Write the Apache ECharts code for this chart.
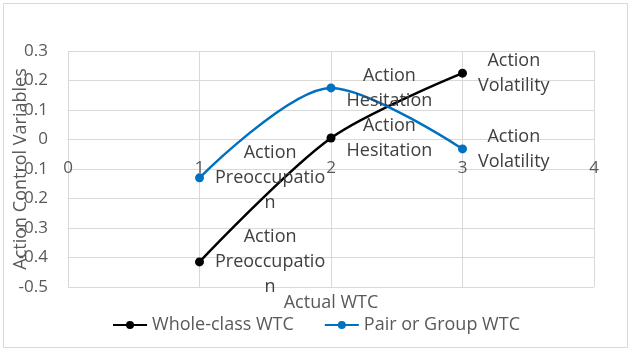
<!DOCTYPE html>
<html><head><meta charset="utf-8">
<script src="https://cdn.jsdelivr.net/npm/echarts@6/dist/echarts.min.js"></script>
<style>html,body{margin:0;padding:0;background:#fff}#c{width:632px;height:356px}</style>
</head><body><div id="c"></div>
<script>
const xCats = [1, 2, 3];
const wholeClass = [-0.415, 0.005, 0.225];
const pairGroup = [-0.130, 0.175, -0.032];
const wholeLabels = ["Action\nPreoccupatio\nn", "Action\nHesitation", "Action\nVolatility"];
const pairLabels = ["Action\nPreoccupatio\nn", "Action\nHesitation", "Action\nVolatility"];
const xTicks = [0, 1, 2, 3, 4];
const yTicks = [-0.5, -0.4, -0.3, -0.2, -0.1, 0, 0.1, 0.2, 0.3];

const FONT = '"Open Sans", sans-serif';
const LSIZE = 18;
const GRID = { left: 68, right: 38, top: 51, bottom: 69 };
const Y_MIN = -0.5, Y_MAX = 0.3;
const plotH = 356 - GRID.top - GRID.bottom;
const zeroOffset = -((0 - Y_MIN) / (Y_MAX - Y_MIN)) * plotH;

const ctx = document.createElement('canvas').getContext('2d');
ctx.font = LSIZE + 'px "Open Sans"';
function labelOffset(txt) {
  const w = Math.max(...txt.split('\n').map(s => ctx.measureText(s).width));
  return [w / 2, 0];
}
function mk(vals, labels) {
  return vals.map((v, i) => ({
    value: [xCats[i], v],
    label: { formatter: labels[i], offset: labelOffset(labels[i]) }
  }));
}
const labelStyle = {
  show: true, position: 'right', distance: 11, align: 'center', verticalAlign: 'middle',
  fontFamily: FONT, fontSize: LSIZE, color: '#404040', lineHeight: 25
};
const chart = echarts.init(document.getElementById('c'));
chart.setOption({
  animation: false,
  grid: Object.assign({ containLabel: false, outerBoundsMode: 'none' }, GRID),
  graphic: [
    { type: 'rect', shape: { x: 3.5, y: 3.5, width: 624, height: 344 }, style: { fill: 'none', stroke: '#d9d9d9', lineWidth: 1 } },
    { type: 'text', x: 331, y: 303, style: { text: 'Actual WTC', font: LSIZE + 'px ' + FONT, fill: '#595959', align: 'center', verticalAlign: 'middle' } }
  ],
  xAxis: {
    type: 'value', min: 0, max: 4, interval: 1, position: 'bottom', offset: zeroOffset,
    axisLine: { show: true, onZero: false, lineStyle: { color: '#d9d9d9' } },
    axisTick: { show: false },
    axisLabel: { margin: 20, fontFamily: FONT, fontSize: 17, color: '#595959',
      formatter: v => xTicks.includes(v) ? String(v) : '' },
    splitLine: { show: true, lineStyle: { color: '#d9d9d9' } }
  },
  yAxis: {
    type: 'value', min: Y_MIN, max: Y_MAX, interval: 0.1,
    name: 'Action Control Variables', nameLocation: 'middle', nameGap: 38, nameMoveOverlap: false,
    nameTextStyle: { fontFamily: FONT, fontSize: LSIZE, color: '#595959' },
    axisLine: { show: false, onZero: false }, axisTick: { show: false },
    axisLabel: { margin: 20, fontFamily: FONT, fontSize: 17, color: '#595959',
      formatter: v => { const t = yTicks.find(k => Math.abs(k - v) < 1e-6); return t === undefined ? '' : String(t); } },
    splitLine: { show: true, lineStyle: { color: '#d9d9d9' } }
  },
  legend: {
    top: 311, left: 'center', itemGap: 30, itemWidth: 34, itemHeight: 10,
    textStyle: { fontFamily: FONT, fontSize: LSIZE, color: '#595959' },
    data: ['Whole-class WTC', 'Pair or Group WTC']
  },
  series: [
    { name: 'Whole-class WTC', type: 'line', smooth: 0.3, data: mk(wholeClass, wholeLabels),
      symbol: 'circle', symbolSize: 9, itemStyle: { color: '#000000' }, lineStyle: { color: '#000000', width: 2.5 },
      label: labelStyle },
    { name: 'Pair or Group WTC', type: 'line', smooth: 0.3, data: mk(pairGroup, pairLabels),
      symbol: 'circle', symbolSize: 9, itemStyle: { color: '#0070C0' }, lineStyle: { color: '#0070C0', width: 2.5 },
      label: labelStyle }
  ]
});
</script></body></html>
